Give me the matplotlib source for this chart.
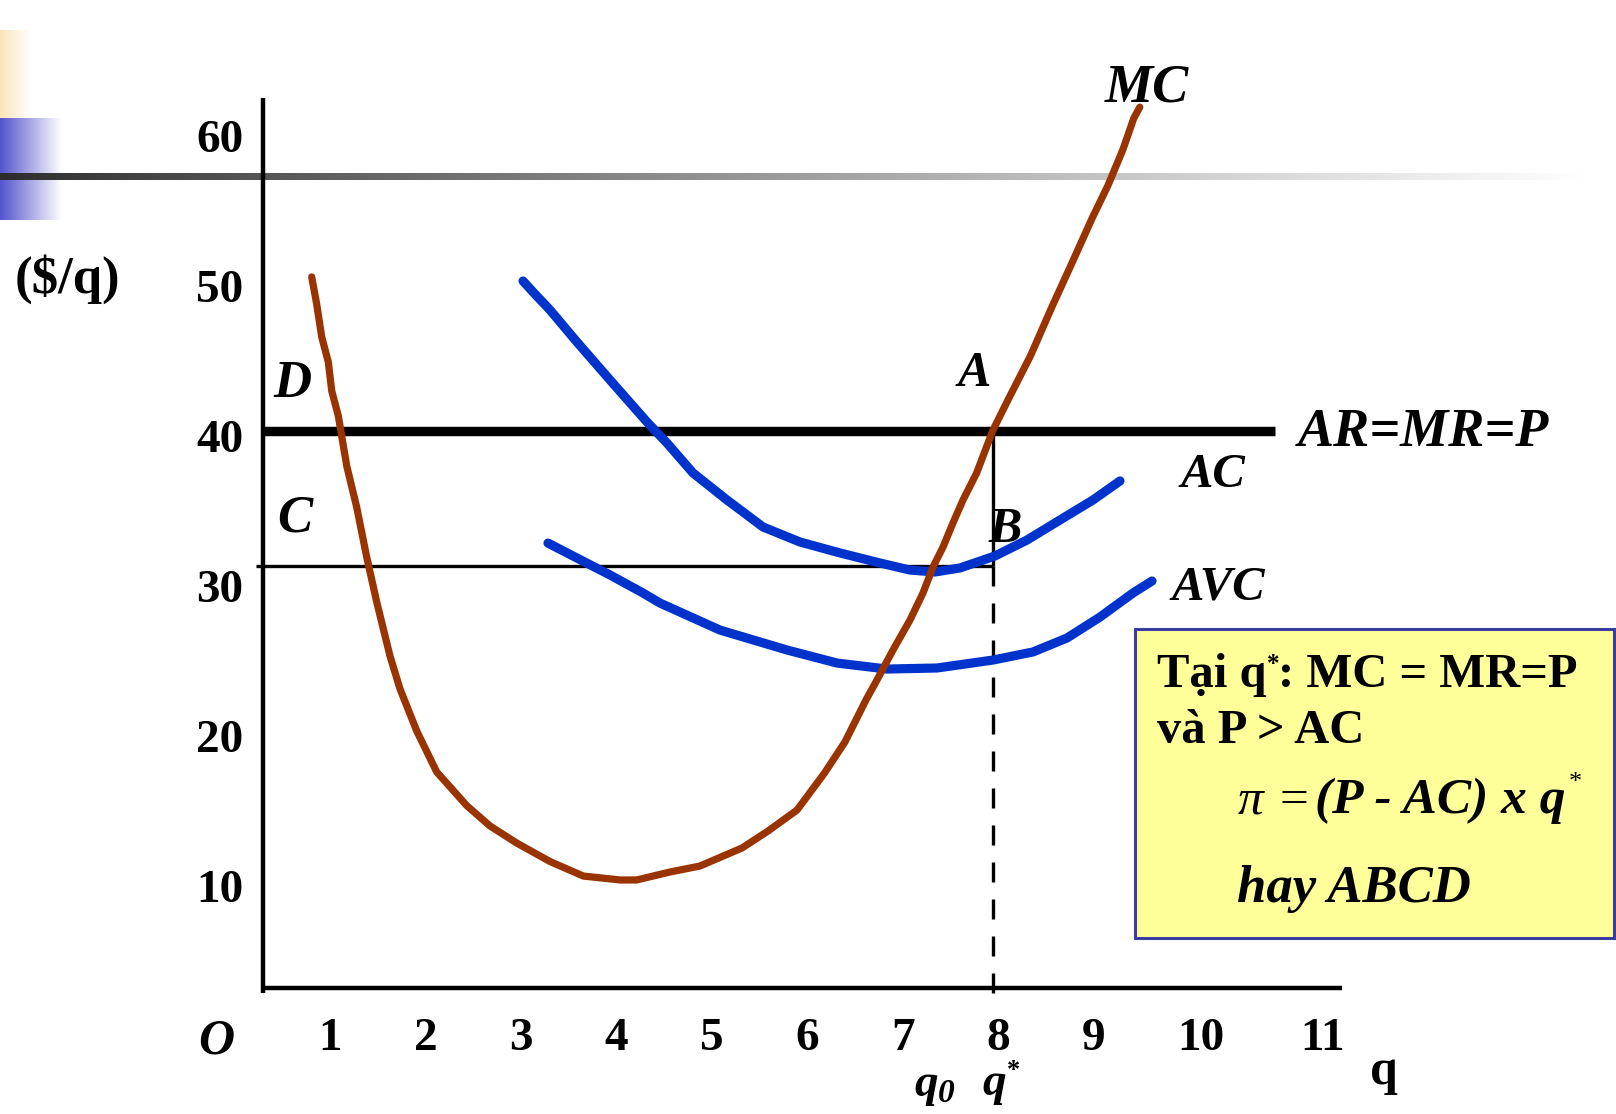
import numpy as np
import matplotlib
matplotlib.use("Agg")
import matplotlib.pyplot as plt
from matplotlib.patches import Rectangle

plt.rcParams['font.family'] = ['Liberation Serif', 'DejaVu Serif']

# ---------------- data ----------------
mc_q = [0.869, 0.921, 0.974, 1.043, 1.079, 1.148, 1.236, 1.340, 1.445, 1.550,
        1.689, 1.794, 1.969, 2.178, 2.492, 2.736, 3.016, 3.364, 3.713, 4.097,
        4.272, 4.621, 4.935, 5.375, 5.647, 5.951, 6.239, 6.453, 6.673, 6.788,
        6.956, 7.134, 7.270, 7.375, 7.480, 7.584, 7.689, 7.832, 8.000, 8.160,
        8.397, 8.610, 8.830, 9.040, 9.207, 9.364, 9.476, 9.540]
mc_cost = [50.25, 48.45, 46.25, 44.58, 42.65, 40.98, 37.65, 34.91, 31.58, 28.58,
           24.98, 22.78, 19.98, 17.25, 15.01, 13.65, 12.51, 11.28, 10.31, 10.05,
           10.05, 10.58, 10.98, 12.18, 13.31, 14.71, 17.18, 19.25, 22.05, 23.38,
           25.38, 27.38, 29.18, 30.91, 32.25, 33.85, 35.38, 37.18, 40.00, 42.05,
           45.01, 48.11, 51.18, 54.15, 56.35, 58.75, 60.81, 61.57]

ac_q = [3.082, 3.186, 3.364, 3.647, 3.993, 4.380, 4.589, 4.862, 5.218, 5.595,
        5.982, 6.401, 6.820, 7.134, 7.396, 7.658, 8.024, 8.359, 8.705, 9.050, 9.333]
ac_cost = [49.98, 49.25, 48.05, 45.91, 43.38, 40.58, 39.18, 37.18, 35.38, 33.58,
           32.58, 31.85, 31.18, 30.71, 30.58, 30.85, 31.65, 32.71, 34.05, 35.38, 36.65]

avc_q = [3.343, 3.647, 3.993, 4.338, 4.516, 5.144, 5.846, 6.370, 6.893, 7.417,
         8.003, 8.422, 8.778, 9.124, 9.469, 9.668]
avc_cost = [32.51, 31.51, 30.38, 29.18, 28.51, 26.71, 25.38, 24.51, 24.11, 24.18,
            24.71, 25.25, 26.18, 27.58, 29.18, 29.98]

price = 40.0          # AR = MR = P
q_star = 8.0          # profit-maximising output
ac_at_qstar = 31.0    # AC at q*
x_ticks = [1, 2, 3, 4, 5, 6, 7, 8, 9, 10, 11]
y_ticks = [10, 20, 30, 40, 50, 60]
x_tick_labels = [str(v) for v in x_ticks]
y_tick_labels = [str(v) for v in y_ticks]

# ---------------- figure & axes ----------------
W, H = 1616, 1114
fig = plt.figure(figsize=(W / 100, H / 100), dpi=100)

# background (pixel coordinates) for slide decoration
bg = fig.add_axes([0, 0, 1, 1], zorder=0)
bg.axis('off')


def hgrad(ax, x0, x1, y0, y1, c0, c1, gamma=1.0, n=256):
    t = np.linspace(0, 1, n) ** gamma
    c0 = np.array(c0) / 255.0
    c1 = np.array(c1) / 255.0
    img = (c0[None, :] * (1 - t[:, None]) + c1[None, :] * t[:, None])[None, :, :]
    ax.imshow(img, extent=(x0, x1, y1, y0), aspect='auto', interpolation='bilinear')


hgrad(bg, 0, 30, 30, 118, (252, 228, 182), (255, 255, 255))
hgrad(bg, 0, 62, 118, 220, (84, 84, 204), (255, 255, 255))
hgrad(bg, 0, 1585, 173.5, 180.5, (44, 44, 44), (255, 255, 255), gamma=0.9)
bg.set_xlim(0, W)
bg.set_ylim(H, 0)

# data axes covering the whole figure
ax = fig.add_axes([0, 0, 1, 1], zorder=1)
ax.patch.set_alpha(0)
ax.axis('off')
x_per_px = 1 / 95.5
y_per_px = 1 / 15.0
X8, Y40 = 992.7, 430.7
ax.set_xlim(8 - X8 * x_per_px, 8 + (W - X8) * x_per_px)
ax.set_ylim(40 - (H - Y40) * y_per_px, 40 + Y40 * y_per_px)

# overlay in pixel coordinates for texts / box
pax = fig.add_axes([0, 0, 1, 1], zorder=2)
pax.patch.set_alpha(0)
pax.axis('off')
pax.set_xlim(0, W)
pax.set_ylim(H, 0)

BROWN = '#993300'
BLUE = '#0033CC'

# axes lines
y_axis_x = 0.357
ax.plot([y_axis_x, y_axis_x], [2.51, 62.18], color='black', lw=3.2, solid_capstyle='butt')
ax.plot([0.344, 11.658], [2.847, 2.847], color='black', lw=3.2, solid_capstyle='butt')

# price line
ax.plot([y_axis_x, 10.96], [price, price], color='black', lw=6.8, solid_capstyle='butt', zorder=3)
# AC level line
ax.plot([0.285, q_star], [ac_at_qstar, ac_at_qstar], color='black', lw=2.4,
        solid_capstyle='butt', zorder=3)
# vertical at q*
ax.plot([q_star, q_star], [price, ac_at_qstar], color='black', lw=2.4,
        solid_capstyle='butt', zorder=3)
ax.plot([q_star, q_star], [ac_at_qstar, 2.51], color='black', lw=2.4,
        dashes=(6, 5.1), zorder=3)

# cost curves
ax.plot(ac_q, ac_cost, color=BLUE, lw=6.6, solid_capstyle='round', solid_joinstyle='round', zorder=4)
ax.plot(avc_q, avc_cost, color=BLUE, lw=6.6, solid_capstyle='round', solid_joinstyle='round', zorder=4)
ax.plot(mc_q, mc_cost, color=BROWN, lw=5.2, solid_capstyle='round', solid_joinstyle='round', zorder=5)

# tick labels
for v, lab in zip(y_ticks, y_tick_labels):
    ax.text(0.150, v - 1.4, lab, fontsize=34, fontweight='bold', ha='right', va='baseline')
extra = {10: 0.12, 11: 0.39}
for v, lab in zip(x_ticks, x_tick_labels):
    ax.text(v + 0.06 + extra.get(v, 0.0), -1.29, lab, fontsize=34, fontweight='bold',
            ha='center', va='baseline')

BI = dict(fontweight='bold', fontstyle='italic')

# labels (pixel coords)
pax.text(15, 293, '($/q)', fontsize=38, fontweight='bold', ha='left', va='baseline')
pax.text(1105, 102, 'MC', fontsize=39, ha='left', va='baseline', **BI)
pax.text(958, 386, 'A', fontsize=36, ha='left', va='baseline', **BI)
pax.text(988, 542, 'B', fontsize=36, ha='left', va='baseline', **BI)
pax.text(277, 532, 'C', fontsize=38, ha='left', va='baseline', **BI)
pax.text(273, 397, 'D', fontsize=38, ha='left', va='baseline', **BI)
pax.text(1298, 446, 'AR=MR=P', fontsize=39, ha='left', va='baseline', **BI)
pax.text(1181, 487, 'AC', fontsize=35, ha='left', va='baseline', **BI)
pax.text(1172, 600, 'AVC', fontsize=35, ha='left', va='baseline', **BI)
pax.text(216, 1053, 'O', fontsize=36, ha='center', va='baseline', **BI)
pax.text(1384, 1084, 'q', fontsize=36, fontweight='bold', ha='center', va='baseline')

tq0 = pax.text(914, 1096, 'q', fontsize=34, ha='left', va='baseline', **BI)
pax.annotate('0', xy=(1, 0), xycoords=tq0, xytext=(0.5, -2), textcoords='offset points',
             fontsize=24, ha='left', va='bottom', **BI)
tqs = pax.text(982, 1095, 'q', fontsize=34, ha='left', va='baseline', **BI)
pax.annotate('*', xy=(1, 1), xycoords=tqs, xytext=(1, 3), textcoords='offset points',
             fontsize=19, ha='left', va='top', fontweight='bold')

# text box
pax.add_patch(Rectangle((1135, 628.5), 479, 309.5, facecolor='#FFFF99',
                        edgecolor='#3C3CA0', lw=2.2, zorder=1))
t1 = pax.text(1156.7, 686.7, 'Tại q', fontsize=35, fontweight='bold', ha='left',
              va='baseline', zorder=2)
s1 = pax.annotate('*', xy=(1, 1), xycoords=t1, xytext=(0.5, 0), textcoords='offset points',
                  fontsize=18, fontweight='bold', ha='left', va='top', zorder=2)
pax.annotate(': MC = MR=P', xy=(1, 0), xycoords=(s1, t1), xytext=(-1, 0),
             textcoords='offset points', fontsize=35, fontweight='bold',
             ha='left', va='bottom', zorder=2)
pax.text(1156.7, 743.3, 'và P > AC', fontsize=35, fontweight='bold', ha='left',
         va='baseline', zorder=2)
tp = pax.text(1238, 813, 'π =', fontsize=37, fontstyle='italic', ha='left',
              va='baseline', zorder=2)
tr = pax.annotate('(P - AC) x q', xy=(1, 0), xycoords=tp, xytext=(3, 0),
                  textcoords='offset points', fontsize=37, ha='left', va='bottom',
                  zorder=2, **BI)
pax.annotate('*', xy=(1, 1), xycoords=tr, xytext=(2, 4), textcoords='offset points',
             fontsize=19, ha='left', va='top', zorder=2)
pax.text(1236.7, 901.7, 'hay ABCD', fontsize=38, ha='left', va='baseline', zorder=2, **BI)

fig.savefig('out.png', dpi=100)
